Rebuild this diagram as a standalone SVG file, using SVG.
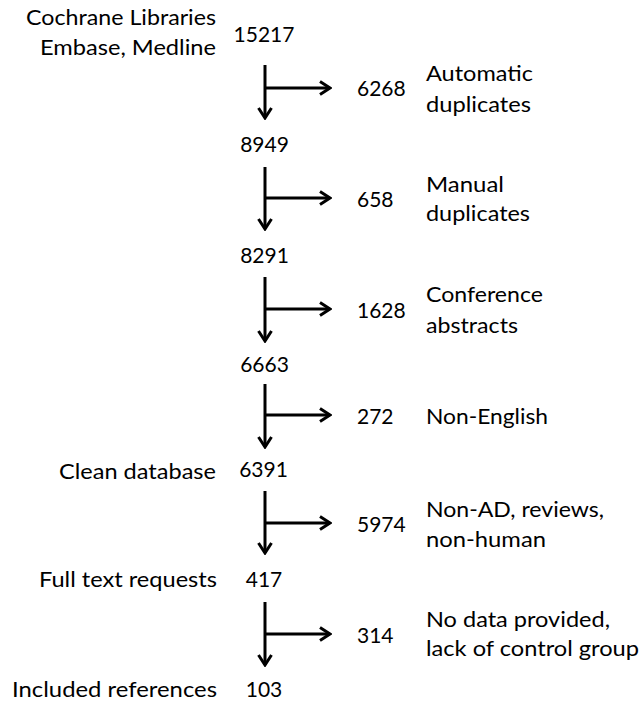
<svg xmlns="http://www.w3.org/2000/svg" width="642" height="702" viewBox="0 0 642 702">
  <style>
    text { font-family: Lato, "Open Sans", sans-serif; font-size: 21px; fill: #000; }
    .lbl { font-size: 22px; }
    .main { text-anchor: middle; }
    .left { text-anchor: end; }
    .conn { stroke: #000; stroke-width: 3; fill: none; }
  </style>
  <defs>
    <marker id="ah" viewBox="0 0 14 16" refX="12" refY="8" markerWidth="14" markerHeight="16" markerUnits="userSpaceOnUse" orient="auto">
      <path d="M2,1.5 L12,8 L2,14.5" fill="none" stroke="#000" stroke-width="3"/>
    </marker>
  </defs>
  <rect width="642" height="702" fill="#fff"/>

  <g id="connectors">
    <path class="conn" d="M265,65 V118" marker-end="url(#ah)"/>
    <path class="conn" d="M265,88 H330" marker-end="url(#ah)"/>
    <path class="conn" d="M265,167 V229" marker-end="url(#ah)"/>
    <path class="conn" d="M265,198 H330" marker-end="url(#ah)"/>
    <path class="conn" d="M265,277 V341" marker-end="url(#ah)"/>
    <path class="conn" d="M265,309 H330" marker-end="url(#ah)"/>
    <path class="conn" d="M265,384 V447" marker-end="url(#ah)"/>
    <path class="conn" d="M265,415 H330" marker-end="url(#ah)"/>
    <path class="conn" d="M265,491 V553" marker-end="url(#ah)"/>
    <path class="conn" d="M265,523 H330" marker-end="url(#ah)"/>
    <path class="conn" d="M265,602 V665" marker-end="url(#ah)"/>
    <path class="conn" d="M265,634 H330" marker-end="url(#ah)"/>
  </g>

  <g id="n-15217">
    <text class="lbl left" x="216" y="25" textLength="190" lengthAdjust="spacingAndGlyphs">Cochrane Libraries</text>
    <text class="lbl left" x="216" y="55" textLength="176" lengthAdjust="spacingAndGlyphs">Embase, Medline</text>
    <text class="main" x="264" y="42">15217</text>
  </g>
  <g id="n-6268">
    <text x="357" y="96">6268</text>
    <text class="lbl" x="426" y="81" textLength="107" lengthAdjust="spacingAndGlyphs">Automatic</text>
    <text class="lbl" x="426" y="112" textLength="105" lengthAdjust="spacingAndGlyphs">duplicates</text>
  </g>
  <g id="n-8949">
    <text class="main" x="264.5" y="152">8949</text>
  </g>
  <g id="n-658">
    <text x="357" y="207">658</text>
    <text class="lbl" x="426" y="192" textLength="78" lengthAdjust="spacingAndGlyphs">Manual</text>
    <text class="lbl" x="426" y="221" textLength="104" lengthAdjust="spacingAndGlyphs">duplicates</text>
  </g>
  <g id="n-8291">
    <text class="main" x="264.5" y="263">8291</text>
  </g>
  <g id="n-1628">
    <text x="357" y="318">1628</text>
    <text class="lbl" x="426" y="302" textLength="117" lengthAdjust="spacingAndGlyphs">Conference</text>
    <text class="lbl" x="426" y="333" textLength="92" lengthAdjust="spacingAndGlyphs">abstracts</text>
  </g>
  <g id="n-6663">
    <text class="main" x="264.5" y="372">6663</text>
  </g>
  <g id="n-272">
    <text x="357" y="424">272</text>
    <text class="lbl" x="426" y="424" textLength="122" lengthAdjust="spacingAndGlyphs">Non-English</text>
  </g>
  <g id="n-6391">
    <text class="lbl left" x="216" y="479" textLength="157" lengthAdjust="spacingAndGlyphs">Clean database</text>
    <text class="main" x="263.5" y="477">6391</text>
  </g>
  <g id="n-5974">
    <text x="357" y="532">5974</text>
    <text class="lbl" x="426" y="517" textLength="178" lengthAdjust="spacingAndGlyphs">Non-AD, reviews,</text>
    <text class="lbl" x="426" y="547" textLength="120" lengthAdjust="spacingAndGlyphs">non-human</text>
  </g>
  <g id="n-417">
    <text class="lbl left" x="217" y="587" textLength="178" lengthAdjust="spacingAndGlyphs">Full text requests</text>
    <text class="main" x="264" y="587">417</text>
  </g>
  <g id="n-314">
    <text x="357" y="643">314</text>
    <text class="lbl" x="426" y="627" textLength="184" lengthAdjust="spacingAndGlyphs">No data provided,</text>
    <text class="lbl" x="426" y="656" textLength="213" lengthAdjust="spacingAndGlyphs">lack of control group</text>
  </g>
  <g id="n-103">
    <text class="lbl left" x="217" y="697" textLength="205" lengthAdjust="spacingAndGlyphs">Included references</text>
    <text class="main" x="264" y="697">103</text>
  </g>
</svg>
